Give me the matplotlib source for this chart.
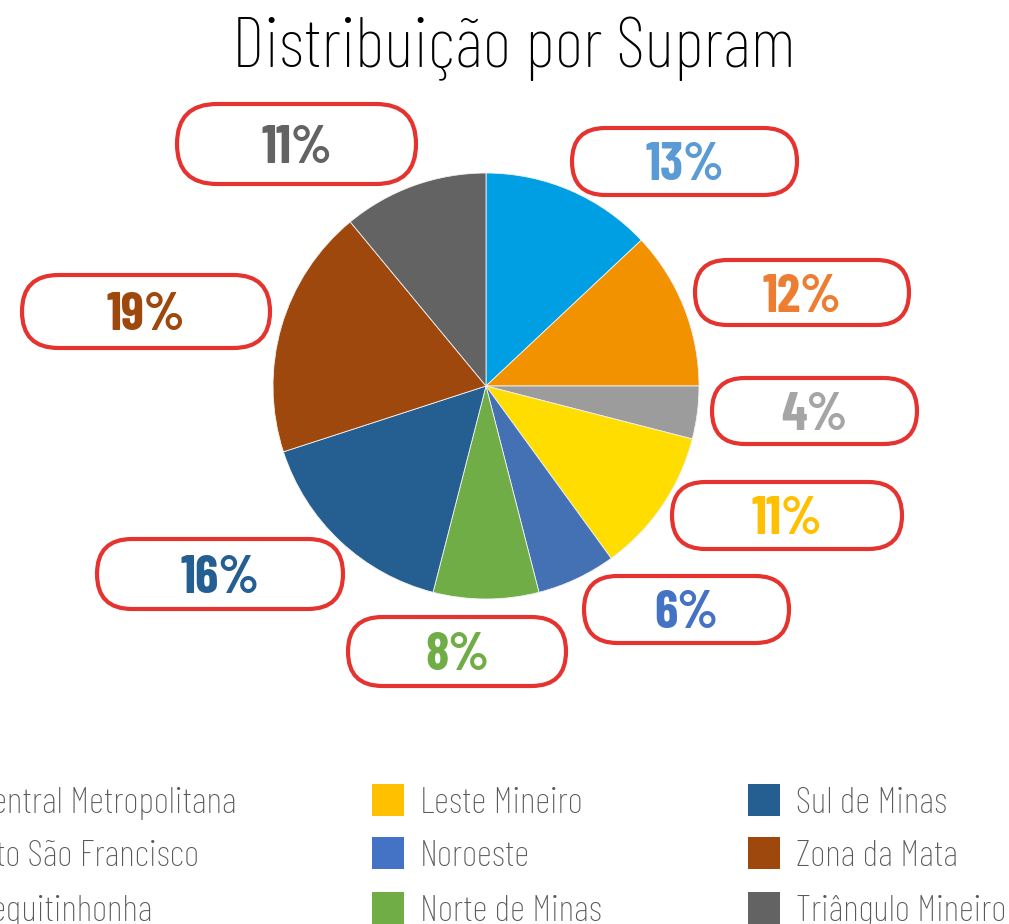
import matplotlib
matplotlib.use("Agg")
import matplotlib.pyplot as plt
from matplotlib.patches import FancyBboxPatch, Rectangle

# ---- data ----
categories = ["Central Metropolitana", "Alto São Francisco", "Jequitinhonha",
              "Leste Mineiro", "Noroeste", "Norte de Minas",
              "Sul de Minas", "Zona da Mata", "Triângulo Mineiro"]
values = [13, 12, 4, 11, 6, 8, 16, 19, 11]
labels = ["13%", "12%", "4%", "11%", "6%", "8%", "16%", "19%", "11%"]
pie_colors = ["#009FE3", "#F39200", "#9C9C9C", "#FFDD00", "#4470B4",
              "#70AD47", "#255E91", "#9E480E", "#636363"]
theme_colors = ["#5B9BD5", "#ED7D31", "#A5A5A5", "#FFC000", "#4472C4",
                "#70AD47", "#255E91", "#9E480E", "#636363"]
title = "Distribuição por Supram"

# ---- layout (pixel positions) ----
W, H = 1009, 924
fig = plt.figure(figsize=(W / 100, H / 100), dpi=100)
ax = fig.add_axes([0, 0, 1, 1])

def Y(py):
    return H - py

cx, cy, r = 486, 386, 213
ax.pie(values, colors=pie_colors, startangle=90, counterclock=False,
       center=(cx, Y(cy)), radius=r, frame=True,
       wedgeprops=dict(linewidth=0.6, edgecolor="#f2f2f2"))
ax.set_xlim(0, W)
ax.set_ylim(0, H)
ax.set_aspect("equal")
ax.axis("off")

# label boxes: (x0, y0, x1, y1) in pixels
boxes = [(572, 128, 797, 195), (695, 260, 909, 325), (712, 378, 917, 444),
         (672, 482, 902, 549), (584, 576, 789, 643), (348, 617, 566, 686),
         (97, 539, 343, 609), (22, 275, 270, 348), (177, 104, 416, 184)]
lab_font = dict(family="Barlow Condensed", weight="bold", size=38)
for (x0, y0, x1, y1), lab, col in zip(boxes, labels, theme_colors):
    h = y1 - y0
    ax.add_patch(FancyBboxPatch((x0, Y(y1)), x1 - x0, h,
                                boxstyle=f"round,pad=0,rounding_size={h/2}",
                                facecolor="white", edgecolor="#E53430",
                                linewidth=3.0, zorder=3))
    ax.text((x0 + x1) / 2, Y((y0 + y1) / 2), lab, color=col, ha="center",
            va="center_baseline", zorder=4, **lab_font)

ax.text(514, Y(42), title, ha="center", va="center_baseline", color="black",
        family="Barlow Condensed", weight="light", size=51)

# legend
rows_y = [800, 853, 908]
cols_x = [-72, 372, 748]
for i, (cat, col) in enumerate(zip(categories, theme_colors)):
    c, rr = divmod(i, 3)
    x, y = cols_x[c], rows_y[rr]
    ax.add_patch(Rectangle((x, Y(y + 16)), 32, 32, facecolor=col,
                           edgecolor="none", clip_on=False))
    ax.text(x + 48, Y(y), cat, ha="left", va="center_baseline", color="#595959",
            family="Barlow Condensed", weight="light", size=27,
            clip_on=False)

fig.savefig("out.png", dpi=100)
